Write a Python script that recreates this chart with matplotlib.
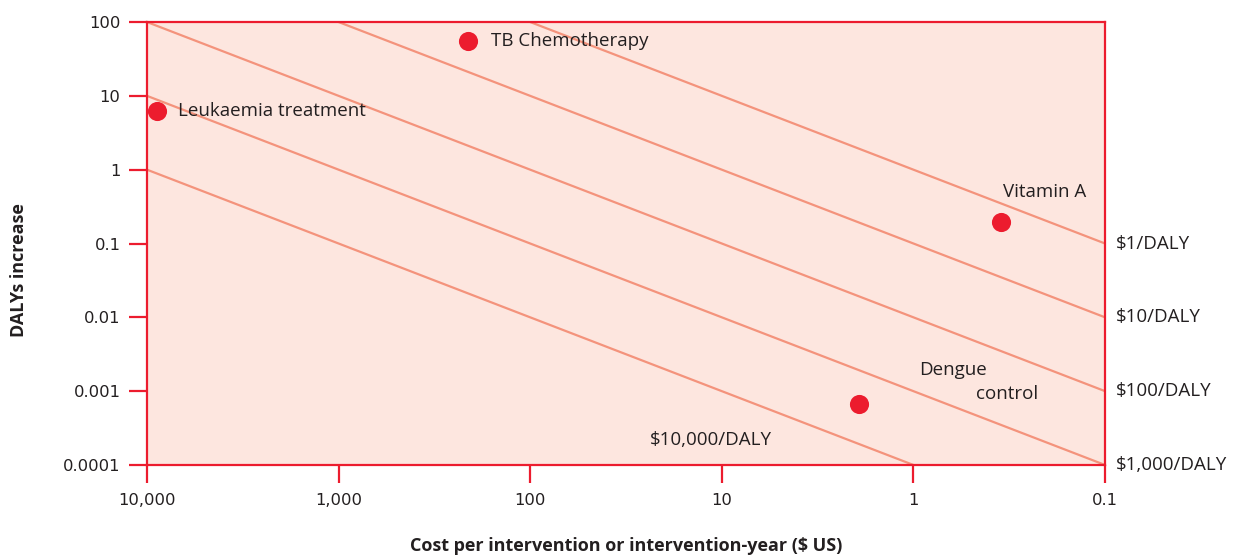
import matplotlib.pyplot as plt

# iso-cost lines ($ per DALY), endpoints
line_labels = ["$1/DALY", "$10/DALY", "$100/DALY", "$1,000/DALY", "$10,000/DALY"]
line_cost_start = [100, 1000, 10000, 10000, 10000]
line_daly_start = [100, 100, 100, 10, 1]
line_cost_end = [0.1, 0.1, 0.1, 0.1, 1]
line_daly_end = [0.1, 0.01, 0.001, 0.0001, 0.0001]

# interventions
names = ["Leukaemia treatment", "TB Chemotherapy", "Vitamin A", "Dengue\ncontrol"]
cost = [8870, 211, 0.35, 1.92]
dalys = [6.2, 55, 0.195, 0.00067]

x_ticks = [10000, 1000, 100, 10, 1, 0.1]
x_ticklabels = ["10,000", "1,000", "100", "10", "1", "0.1"]
y_ticks = [0.0001, 0.001, 0.01, 0.1, 1, 10, 100]
y_ticklabels = ["0.0001", "0.001", "0.01", "0.1", "1", "10", "100"]

RED = "#ec1c2e"
SALMON = "#f4937c"
FILL = "#fde6df"
TXT = "#231f20"
FONT = "Open Sans"
FS = 13.5

plt.rcParams["font.family"] = "DejaVu Sans"

fig = plt.figure(figsize=(12.38, 5.56), dpi=100)
ax = fig.add_axes([0.1187, 0.1637, 0.7739, 0.7967])
ax.set_facecolor(FILL)
ax.set_xscale("log")
ax.set_yscale("log")
ax.set_xlim(10000, 0.1)
ax.set_ylim(0.0001, 100)

for i in range(len(line_labels)):
    ax.plot([line_cost_start[i], line_cost_end[i]],
            [line_daly_start[i], line_daly_end[i]],
            color=SALMON, lw=1.6, zorder=2)

# right-hand labels for the first four lines, the last one sits inside
for i in range(4):
    ax.annotate(line_labels[i], (line_cost_end[i], line_daly_end[i]),
                xytext=(8, 0), textcoords="offset points",
                ha="left", va="center", fontsize=FS, family=FONT,
                color=TXT, annotation_clip=False)
ax.text(23.7, 0.000217, line_labels[4], ha="left", va="center",
        fontsize=FS, family=FONT, color=TXT)

ax.scatter(cost, dalys, s=190, color=RED, zorder=4, linewidths=0)

offsets = [(15, 0), (16.5, 0), (1.5, 21.5)]
for i, name in enumerate(names):
    if name.startswith("Dengue"):
        ax.annotate("Dengue", (cost[i], dalys[i]), xytext=(43, 24.5),
                    textcoords="offset points", ha="left", va="center",
                    fontsize=FS, family=FONT, color=TXT)
        ax.annotate("control", (cost[i], dalys[i]), xytext=(84, 7),
                    textcoords="offset points", ha="left", va="center",
                    fontsize=FS, family=FONT, color=TXT)
        continue
    ax.annotate(name, (cost[i], dalys[i]), xytext=offsets[i],
                textcoords="offset points", ha="left", va="center",
                fontsize=FS, family=FONT, color=TXT)

ax.set_xticks(x_ticks)
ax.set_xticklabels(x_ticklabels)
ax.set_yticks(y_ticks)
ax.set_yticklabels(y_ticklabels)
ax.minorticks_off()
ax.tick_params(axis="both", length=13, width=1.6, color=RED,
               labelsize=11.8, labelcolor=TXT)
ax.tick_params(axis="x", pad=7)
ax.tick_params(axis="y", pad=6)

for sp in ax.spines.values():
    sp.set_color(RED)
    sp.set_linewidth(1.6)

ax.set_xlabel("Cost per intervention or intervention-year ($ US)",
              fontsize=13, fontweight="bold", family=FONT, color=TXT)
ax.xaxis.set_label_coords(0.5, -0.163)
ax.set_ylabel("DALYs increase", fontsize=13, fontweight="bold",
              family=FONT, color=TXT)
ax.yaxis.set_label_coords(-0.124, 0.44)

fig.savefig("out.png", dpi=100)
